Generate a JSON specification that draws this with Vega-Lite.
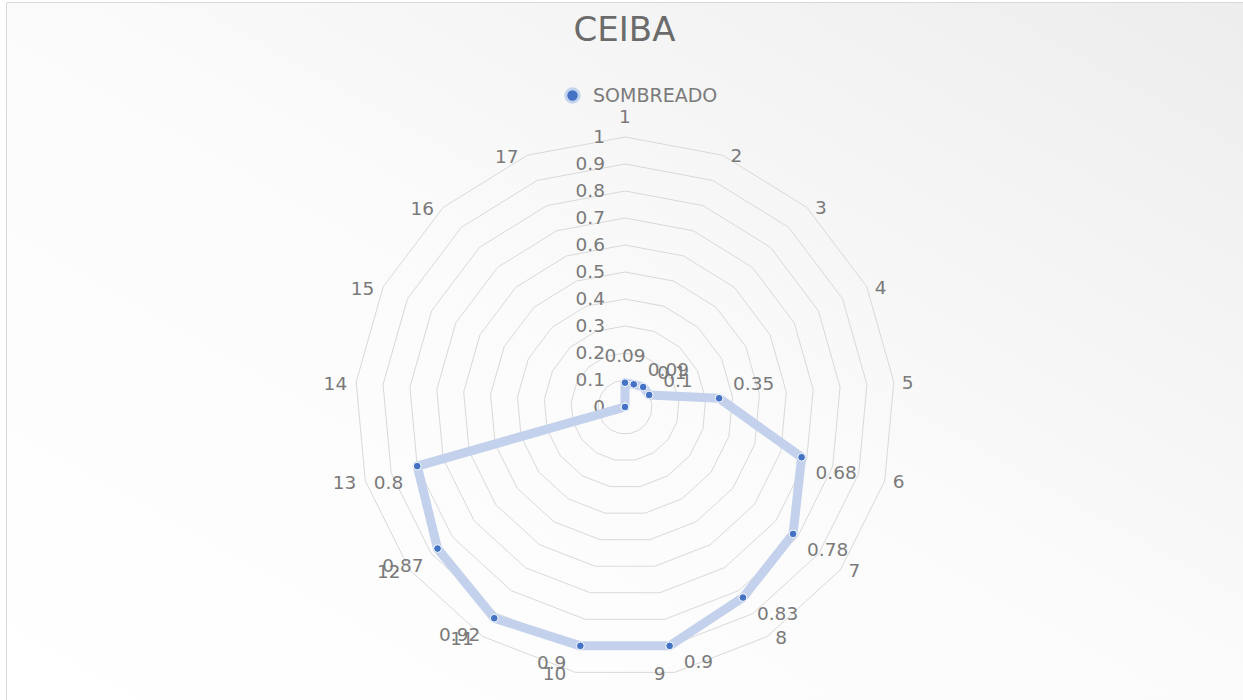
{
  "$schema": "https://vega.github.io/schema/vega-lite/v6.json",
  "width": 1237,
  "height": 698,
  "autosize": {"type": "none"},
  "padding": {"left": 6, "top": 2, "right": 0, "bottom": 0},
  "background": "#ffffff",
  "config": {
    "view": {
      "fill": {"gradient": "linear", "x1": 0, "y1": 1, "x2": 1, "y2": 0,
        "stops": [{"offset": 0, "color": "#ffffff"}, {"offset": 0.5, "color": "#fbfbfb"}, {"offset": 1, "color": "#ededed"}]},
      "stroke": "#d9d9d9",
      "strokeWidth": 1
    },
    "text": {"font": "DejaVu Sans", "fontSize": 18.5, "color": "#7a7a7a"},
    "legend": {
      "orient": "none",
      "legendX": 557,
      "legendY": 84,
      "direction": "horizontal",
      "padding": 0,
      "labelFont": "DejaVu Sans",
      "labelFontSize": 19,
      "labelColor": "#7a7a7a",
      "labelOffset": 11,
      "symbolType": "circle",
      "symbolSize": 180,
      "symbolStrokeColor": "#c5d4ee",
      "symbolStrokeWidth": 3
    }
  },
  "title": {
    "text": "CEIBA",
    "font": "DejaVu Sans",
    "fontSize": 34,
    "fontWeight": "normal",
    "color": "#6b6b6b",
    "anchor": "middle",
    "offset": -73,
    "baseline": "alphabetic"
  },
  "datasets": {
    "series": [
      {"k": 1, "value": 0.09},
      {"k": 2, "value": 0.09},
      {"k": 3, "value": 0.1},
      {"k": 4, "value": 0.1},
      {"k": 5, "value": 0.35},
      {"k": 6, "value": 0.68},
      {"k": 7, "value": 0.78},
      {"k": 8, "value": 0.83},
      {"k": 9, "value": 0.9},
      {"k": 10, "value": 0.9},
      {"k": 11, "value": 0.92},
      {"k": 12, "value": 0.87},
      {"k": 13, "value": 0.8},
      {"k": 14, "value": 0},
      {"k": 15, "value": 0},
      {"k": 16, "value": 0},
      {"k": 17, "value": 0}
    ],
    "grid": [
      {"level": 0, "ks": [1,2,3,4,5,6,7,8,9,10,11,12,13,14,15,16,17]},
      {"level": 0.1, "ks": [1,2,3,4,5,6,7,8,9,10,11,12,13,14,15,16,17]},
      {"level": 0.2, "ks": [1,2,3,4,5,6,7,8,9,10,11,12,13,14,15,16,17]},
      {"level": 0.3, "ks": [1,2,3,4,5,6,7,8,9,10,11,12,13,14,15,16,17]},
      {"level": 0.4, "ks": [1,2,3,4,5,6,7,8,9,10,11,12,13,14,15,16,17]},
      {"level": 0.5, "ks": [1,2,3,4,5,6,7,8,9,10,11,12,13,14,15,16,17]},
      {"level": 0.6, "ks": [1,2,3,4,5,6,7,8,9,10,11,12,13,14,15,16,17]},
      {"level": 0.7, "ks": [1,2,3,4,5,6,7,8,9,10,11,12,13,14,15,16,17]},
      {"level": 0.8, "ks": [1,2,3,4,5,6,7,8,9,10,11,12,13,14,15,16,17]},
      {"level": 0.9, "ks": [1,2,3,4,5,6,7,8,9,10,11,12,13,14,15,16,17]},
      {"level": 1, "ks": [1,2,3,4,5,6,7,8,9,10,11,12,13,14,15,16,17]}
    ]
  },
  "layer": [
    {
      "data": {"name": "grid"},
      "layer": [
        {
          "transform": [
            {"filter": "datum.level > 0"},
            {"flatten": ["ks"], "as": ["k"]},
            {"calculate": "(datum.k - 1) * 2 * PI / 17", "as": "ang"},
            {"calculate": "datum.level * sin(datum.ang)", "as": "gx"},
            {"calculate": "datum.level * cos(datum.ang)", "as": "gy"}
          ],
          "mark": {"type": "line", "interpolate": "linear-closed", "stroke": "#d9d9d9", "strokeWidth": 1},
          "encoding": {
            "x": {"field": "gx", "type": "quantitative", "scale": {"domain": [-2.2926, 2.2889], "nice": false, "zero": false}, "axis": null},
            "y": {"field": "gy", "type": "quantitative", "scale": {"domain": [-1.0852, 1.5], "nice": false, "zero": false}, "axis": null},
            "detail": {"field": "level", "type": "nominal"},
            "order": {"field": "k", "type": "quantitative"}
          }
        },
        {
          "mark": {"type": "text", "align": "right", "baseline": "middle", "dx": -20},
          "encoding": {
            "x": {"datum": 0, "type": "quantitative"},
            "y": {"field": "level", "type": "quantitative"},
            "text": {"field": "level", "type": "nominal"}
          }
        }
      ]
    },
    {
      "data": {"name": "series"},
      "transform": [
        {"calculate": "(datum.k - 1) * 2 * PI / 17", "as": "ang"},
        {"calculate": "datum.value * sin(datum.ang)", "as": "px"},
        {"calculate": "datum.value * cos(datum.ang)", "as": "py"},
        {"calculate": "sin(datum.ang)", "as": "cx"},
        {"calculate": "cos(datum.ang)", "as": "cy"}
      ],
      "layer": [
        {
          "transform": [{"filter": "datum.k == 1"}],
          "mark": {"type": "text", "align": "center", "baseline": "middle", "dy": -20},
          "encoding": {
            "x": {"field": "cx", "type": "quantitative"},
            "y": {"field": "cy", "type": "quantitative"},
            "text": {"field": "k", "type": "nominal"}
          }
        },
        {
          "transform": [{"filter": "datum.k >= 2 && datum.k <= 8"}],
          "mark": {"type": "text", "align": "left", "baseline": "middle", "dx": 8, "dy": 1},
          "encoding": {
            "x": {"field": "cx", "type": "quantitative"},
            "y": {"field": "cy", "type": "quantitative"},
            "text": {"field": "k", "type": "nominal"}
          }
        },
        {
          "transform": [{"filter": "datum.k >= 9"}],
          "mark": {"type": "text", "align": "right", "baseline": "middle", "dx": -9, "dy": 2},
          "encoding": {
            "x": {"field": "cx", "type": "quantitative"},
            "y": {"field": "cy", "type": "quantitative"},
            "text": {"field": "k", "type": "nominal"}
          }
        },
        {
          "mark": {"type": "line", "interpolate": "linear-closed", "stroke": "#c3d1ec", "strokeWidth": 9, "strokeJoin": "round", "strokeCap": "round"},
          "encoding": {
            "x": {"field": "px", "type": "quantitative"},
            "y": {"field": "py", "type": "quantitative"},
            "order": {"field": "k", "type": "quantitative"}
          }
        },
        {
          "mark": {"type": "point", "filled": true, "size": 60, "stroke": "#ffffff", "strokeWidth": 1, "opacity": 1},
          "encoding": {
            "x": {"field": "px", "type": "quantitative"},
            "y": {"field": "py", "type": "quantitative"},
            "color": {"datum": "SOMBREADO", "type": "nominal", "scale": {"range": ["#4472c4"]}, "legend": {"title": null}}
          }
        },
        {
          "transform": [{"filter": "datum.k == 1"}],
          "mark": {"type": "text", "align": "center", "baseline": "middle", "dy": -27},
          "encoding": {
            "x": {"field": "px", "type": "quantitative"},
            "y": {"field": "py", "type": "quantitative"},
            "text": {"field": "value", "type": "nominal"}
          }
        },
        {
          "transform": [{"filter": "datum.k >= 2 && datum.k <= 5"}],
          "mark": {"type": "text", "align": "left", "baseline": "middle", "dx": 14, "dy": -14},
          "encoding": {
            "x": {"field": "px", "type": "quantitative"},
            "y": {"field": "py", "type": "quantitative"},
            "text": {"field": "value", "type": "nominal"}
          }
        },
        {
          "transform": [{"filter": "datum.k >= 6 && datum.k <= 9"}],
          "mark": {"type": "text", "align": "left", "baseline": "middle", "dx": 14, "dy": 16},
          "encoding": {
            "x": {"field": "px", "type": "quantitative"},
            "y": {"field": "py", "type": "quantitative"},
            "text": {"field": "value", "type": "nominal"}
          }
        },
        {
          "transform": [{"filter": "datum.k >= 10 && datum.k <= 13"}],
          "mark": {"type": "text", "align": "right", "baseline": "middle", "dx": -14, "dy": 17},
          "encoding": {
            "x": {"field": "px", "type": "quantitative"},
            "y": {"field": "py", "type": "quantitative"},
            "text": {"field": "value", "type": "nominal"}
          }
        }
      ]
    }
  ]
}
